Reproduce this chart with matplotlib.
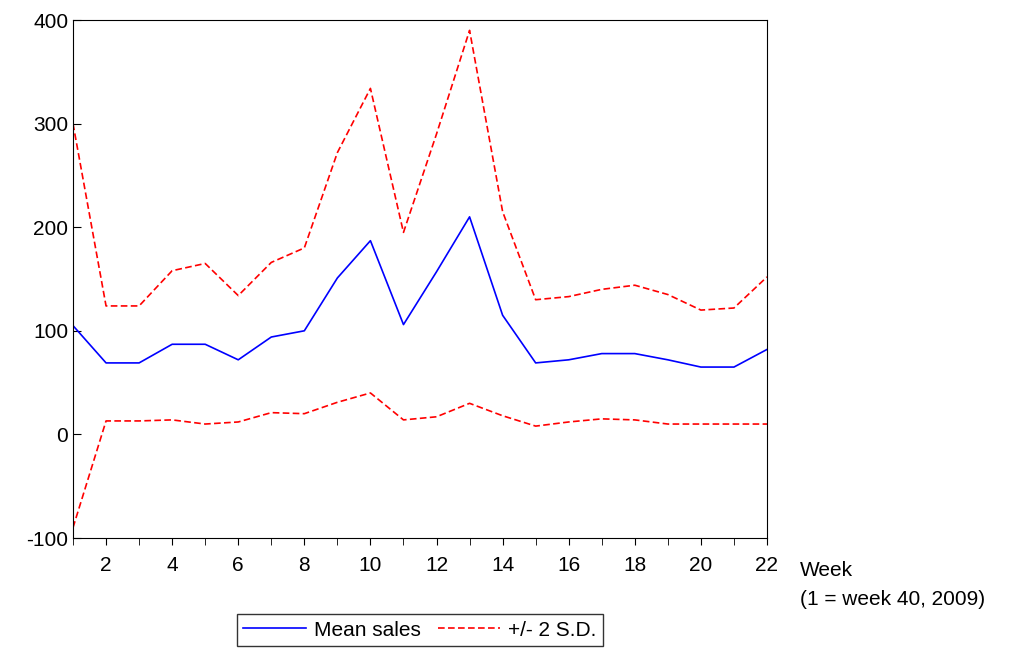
import numpy as np
import matplotlib.pyplot as plt

weeks = np.arange(1, 23)
mean_sales = [105, 69, 69, 87, 87, 72, 94, 100, 151, 187, 106, 157, 210, 115, 69, 72, 78, 78, 72, 65, 65, 82]
upper = [300, 124, 124, 158, 165, 134, 166, 180, 272, 334, 195, 290, 390, 215, 130, 133, 140, 144, 135, 120, 122, 152]
lower = [-90, 13, 13, 14, 10, 12, 21, 20, 31, 40, 14, 17, 30, 18, 8, 12, 15, 14, 10, 10, 10, 10]

plt.rcParams['font.family'] = ['Liberation Sans', 'DejaVu Sans']
plt.rcParams['axes.unicode_minus'] = False
fig = plt.figure(figsize=(10.27, 6.52), dpi=100)
ax = fig.add_axes([73 / 1027, 1 - 538 / 652, (767 - 73) / 1027, (538 - 20) / 652])

ax.plot(weeks, mean_sales, color='#0000ff', lw=1.2, label='Mean sales')
ax.plot(weeks, upper, color='#ff0000', lw=1.2, ls='--', dashes=(4, 2), label='+/- 2 S.D.')
ax.plot(weeks, lower, color='#ff0000', lw=1.2, ls='--', dashes=(4, 2))

ax.set_xlim(1, 22)
ax.set_ylim(-100, 400)
ax.set_xticks(range(2, 23, 2))
ax.set_xticks(range(1, 23), minor=True)
ax.set_yticks(range(-100, 401, 100))
ax.tick_params(axis='both', labelsize=15)
ax.tick_params(axis='y', direction='in', length=6)
ax.tick_params(axis='x', which='both', direction='out', length=5, pad=8)

fig.text(800 / 1027, 1 - 585 / 652, 'Week\n(1 = week 40, 2009)', fontsize=15, va='center', ha='left',
         linespacing=1.7)
fig.legend(loc='center', bbox_to_anchor=(420 / 1027, 1 - 630 / 652), ncol=2, fontsize=15,
           frameon=True, fancybox=False, edgecolor='black', handlelength=3, borderpad=0.3,
           columnspacing=0.8, handletextpad=0.4)

fig.savefig('out.png', dpi=100)
